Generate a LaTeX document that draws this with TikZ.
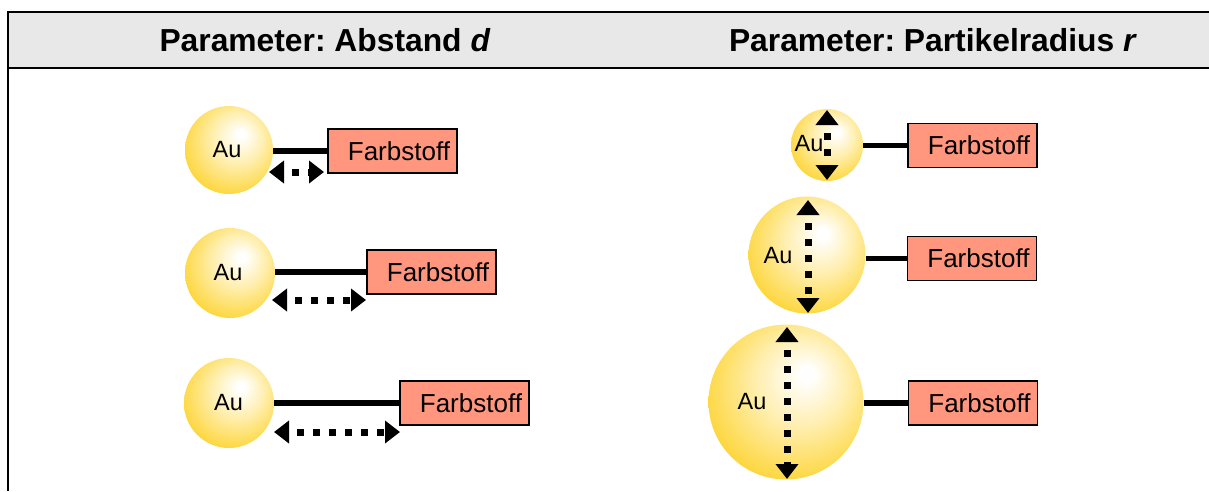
\documentclass[tikz,border=0pt]{standalone}
\usepackage{fontspec}
\setmainfont{Liberation Sans}
\usetikzlibrary{arrows.meta}
\frenchspacing
\definecolor{auLight}{RGB}{255,238,172}
\definecolor{auDark}{RGB}{253,214,60}
\definecolor{dyeFill}{RGB}{255,150,125}
\definecolor{headFill}{RGB}{232,232,232}
% gold particle: highlight up and to the right
\pgfdeclareradialshading{aushade}{\pgfpoint{7bp}{9.5bp}}{color(0bp)=(white); color(2bp)=(white); color(15bp)=(auLight); color(30bp)=(auDark); color(50bp)=(auDark)}
\begin{document}
\begin{tikzpicture}[x=1pt,y=-1pt,
  au/.style={circle, shading=aushade, inner sep=0pt, minimum size=#1},
  aulabel/.style={inner sep=0pt, font=\fontsize{23.5}{28}\selectfont},
  dye/.style={draw=black, line width=1.2pt, fill=dyeFill, minimum width=129pt,
    minimum height=44pt, inner xsep=7pt, inner ysep=2pt, text width=115pt,
    align=right, font=\fontsize{26}{30}\selectfont},
  link/.style={line width=5.5pt},
  gap/.style={line width=7pt, dash pattern=on 7pt off 9pt, dash phase=7pt,
    {Triangle[length=15pt,width=22pt]}-{Triangle[length=15pt,width=22pt]}},
  headtext/.style={inner sep=0pt, font=\fontsize{31.8}{38}\bfseries}]
\useasboundingbox (0,0) rectangle (1209,491);

% header band and frame
\fill[headFill] (8,12) rectangle (1209,68);
\draw[line width=2pt] (1209,12) -- (8,12) -- (8,491);
\draw[line width=2pt] (8,68) -- (1209,68);
\node[headtext] (hd) at (325,40) {Parameter: Abstand \textit{d}};
\node[headtext] (hr) at (933,40) {Parameter: Partikelradius \textit{r}};

% left column: distance d varies
\node[au=88pt] (a1) at (229,150) {};
\node[aulabel] (la1) at (227,150) {Au};
\node[dye] (f1) at (392.5,151) {Farbstoff};
\draw[link] (f1.west -| a1.east) -- (f1.west);
\coordinate (d1s) at (269,172); \coordinate (d1e) at (324,172);
\draw[gap] (d1s) -- (d1e);

\node[au=90pt] (a2) at (230,273) {};
\node[aulabel] (la2) at (228,273) {Au};
\node[dye] (f2) at (431.5,272) {Farbstoff};
\draw[link] (f2.west -| a2.east) -- (f2.west);
\coordinate (d2s) at (272,300); \coordinate (d2e) at (366,300);
\draw[gap] (d2s) -- (d2e);

\node[au=90pt] (a3) at (229,403) {};
\node[aulabel] (la3) at (228.5,403) {Au};
\node[dye] (f3) at (464.5,403) {Farbstoff};
\draw[link] (f3.west -| a3.east) -- (f3.west);
\coordinate (d3s) at (274,432); \coordinate (d3e) at (400,432);
\draw[gap] (d3s) -- (d3e);

% right column: particle radius r varies
\node[au=72pt] (b1) at (827,145) {};
\node[aulabel] (lb1) at (809,144) {Au};
\node[dye] (g1) at (972.5,145.5) {Farbstoff};
\draw[link] (g1.west -| b1.east) -- (g1.west);
\coordinate (r1s) at (827,110); \coordinate (r1e) at (827,180);
\draw[gap] (r1s) -- (r1e);

\node[au=117pt] (b2) at (807,255) {};
\node[aulabel] (lb2) at (778,256) {Au};
\node[dye] (g2) at (972,258.5) {Farbstoff};
\draw[link] (g2.west -| b2.east) -- (g2.west);
\coordinate (r2s) at (808,200); \coordinate (r2e) at (808,313);
\draw[gap] (r2s) -- (r2e);

\node[au=155pt] (b3) at (786,402) {};
\node[aulabel] (lb3) at (752,401.5) {Au};
\node[dye] (g3) at (973,403) {Farbstoff};
\draw[link] (g3.west -| b3.east) -- (g3.west);
\coordinate (r3s) at (787,327); \coordinate (r3e) at (787,479);
\draw[gap] (r3s) -- (r3e);
\end{tikzpicture}
\end{document}
